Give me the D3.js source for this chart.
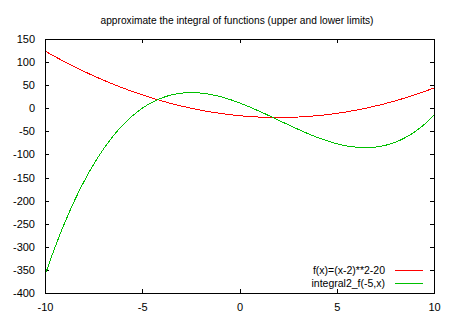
<!DOCTYPE html>
<html lang="en">
<head>
<meta charset="utf-8">
<title>integral</title>
<script src="https://cdn.jsdelivr.net/npm/d3@7"></script>
<style>
  body { margin: 0; background: #fff; }
  text { font-family: "Liberation Sans", Arial, sans-serif; font-size: 11px; fill: #000; }
  .title { font-size: 10.2px; }
  .legend text { font-size: 10.5px; }
  .frame { fill: none; stroke: #000; stroke-width: 1; shape-rendering: crispEdges; }
  .tick line { stroke: #000; shape-rendering: crispEdges; }
  .curve { fill: none; stroke-width: 1; shape-rendering: crispEdges; }
</style>
</head>
<body>
<script>
// sample positions and values
var xs = [-10, -9.5, -9, -8.5, -8, -7.5, -7, -6.5, -6, -5.5, -5, -4.5, -4, -3.5, -3, -2.5, -2, -1.5, -1, -0.5,
          0, 0.5, 1, 1.5, 2, 2.5, 3, 3.5, 4, 4.5, 5, 5.5, 6, 6.5, 7, 7.5, 8, 8.5, 9, 9.5, 10];
var fVals = [124, 112.2, 101, 90.2, 80, 70.2, 61, 52.2, 44, 36.2, 29, 22.2, 16, 10.2, 5, 0.2, -4, -7.8, -11, -13.8,
             -16, -17.8, -19, -19.8, -20, -19.8, -19, -17.8, -16, -13.8, -11, -7.8, -4, 0.2, 5, 10.2, 16, 22.2, 29, 36.2, 44];
var gVals = [-361.7, -302.6, -249.3, -201.5, -159, -121.5, -88.7, -60.4, -36.3, -16.3, 0, 12.8, 22.3, 28.9, 32.7, 34, 33, 30, 25.3, 19.1,
             11.7, 3.2, -6, -15.7, -25.7, -35.6, -45.3, -54.5, -63, -70.5, -76.7, -81.4, -84.3, -85.3, -84, -80.2, -73.7, -64.1, -51.3, -35, -15];
var xTicks = [-10, -5, 0, 5, 10];
var yTicks = [-400, -350, -300, -250, -200, -150, -100, -50, 0, 50, 100, 150];
var seriesNames = ["f(x)=(x-2)**2-20", "integral2_f(-5,x)"];
var seriesColors = ["#ff0000", "#00c000"];

var w = 450, h = 320;
var padL = 45, padR = 434, padT = 39, padB = 293;

var svg = d3.select("body").append("svg")
  .attr("width", w)
  .attr("height", h);

var xScale = d3.scaleLinear().domain([-10, 10]).range([padL, padR]);
var yScale = d3.scaleLinear().domain([-400, 150]).range([padB, padT]);
var plain = function(d) { return String(d); };   // keep the ascii minus

// title
svg.append("text")
  .attr("class", "title")
  .attr("x", 237)
  .attr("y", 24)
  .attr("text-anchor", "middle")
  .text("approximate the integral of functions (upper and lower limits)");

// axes, ticks pointing inward and mirrored
function tidy(g) {
  g.select(".domain").remove();
  g.selectAll("text").attr("font-size", null).attr("font-family", null);
}
svg.append("g")
  .attr("transform", "translate(0," + padB + ")")
  .call(d3.axisBottom(xScale).tickValues(xTicks).tickSizeInner(-4).tickSizeOuter(0).tickPadding(10).tickFormat(plain))
  .call(tidy);
svg.append("g")
  .attr("transform", "translate(0," + padT + ")")
  .call(d3.axisTop(xScale).tickValues(xTicks).tickSizeInner(-4).tickSizeOuter(0).tickFormat(""))
  .call(tidy);
svg.append("g")
  .attr("transform", "translate(" + padL + ",0)")
  .call(d3.axisLeft(yScale).tickValues(yTicks).tickSizeInner(-4).tickSizeOuter(0).tickPadding(10).tickFormat(plain))
  .call(tidy);
svg.append("g")
  .attr("transform", "translate(" + padR + ",0)")
  .call(d3.axisRight(yScale).tickValues(yTicks).tickSizeInner(-4).tickSizeOuter(0).tickFormat(""))
  .call(tidy);

// curves
var series = [fVals, gVals];
var line = d3.line()
  .x(function(d, i) { return xScale(xs[i]); })
  .y(function(d) { return yScale(d); })
  .curve(d3.curveMonotoneX);

svg.selectAll("path.curve")
  .data(series)
  .enter()
  .append("path")
  .attr("class", "curve")
  .attr("stroke", function(d, i) { return seriesColors[i]; })
  .attr("d", line);

// frame
svg.append("rect")
  .attr("class", "frame")
  .attr("x", padL)
  .attr("y", padT)
  .attr("width", padR - padL)
  .attr("height", padB - padT);

// legend
var legend = svg.selectAll("g.legend")
  .data(seriesNames)
  .enter()
  .append("g")
  .attr("class", "legend")
  .attr("transform", function(d, i) { return "translate(0," + (270 + i * 13) + ")"; });
legend.append("text")
  .attr("x", 385)
  .attr("y", 4)
  .attr("text-anchor", "end")
  .text(function(d) { return d; });
legend.append("line")
  .attr("x1", 395)
  .attr("x2", 423)
  .attr("y1", 0.5)
  .attr("y2", 0.5)
  .attr("stroke", function(d) { return seriesColors[seriesNames.indexOf(d)]; });
</script>
</body>
</html>
